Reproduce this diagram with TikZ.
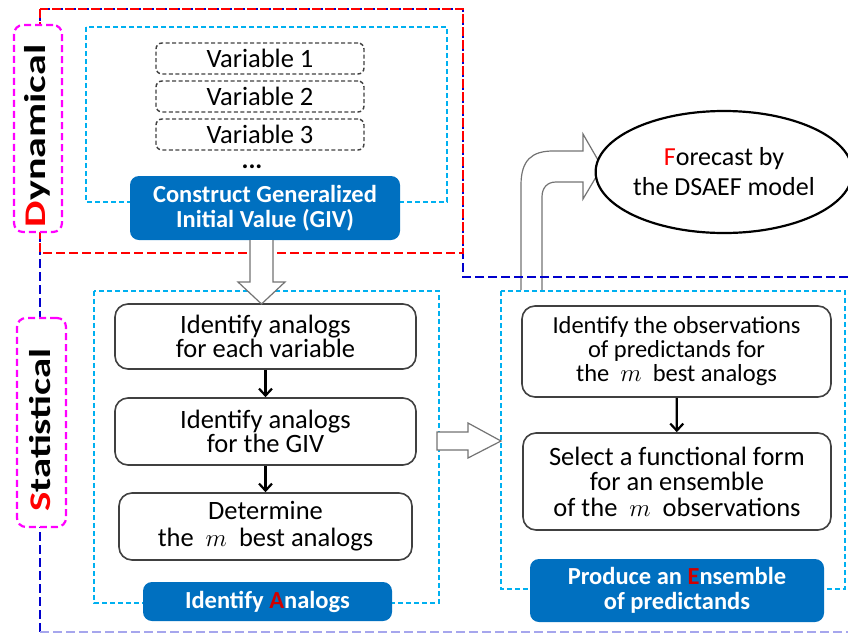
\documentclass[tikz,border=0pt]{standalone}
\usepackage{fontspec}
\usepackage{graphicx}
\setmainfont{Carlito}
\usetikzlibrary{arrows.meta,shapes.geometric}
\definecolor{cyanl}{HTML}{00B0F0}
\definecolor{boxblue}{HTML}{0070C0}
\definecolor{dblue}{HTML}{0000CC}
\definecolor{mag}{HTML}{FF00FF}
\definecolor{redd}{HTML}{FF0000}
\definecolor{darkred}{HTML}{D00000}
\begin{document}
\begin{tikzpicture}[x=1pt,y=-1pt,
  cyanbox/.style={draw=cyanl, line width=1.7pt, dash pattern=on 5pt off 3pt},
  magbox/.style={draw=mag, fill=white, line width=2.2pt, dash pattern=on 7pt off 4pt, rounded corners=9pt, inner sep=0pt},
  varbox/.style={draw=black!75, line width=1.4pt, dash pattern=on 4pt off 2.5pt, rounded corners=6pt, inner sep=0pt, minimum width=208pt, minimum height=31pt, font=\fontsize{26.5}{26}\selectfont},
  stepbox/.style={draw=black!75, fill=white, line width=1.6pt, rounded corners=13pt, inner sep=0pt, align=center, font=\fontsize{26.5}{24}\selectfont},
  bluebox/.style={fill=boxblue, rounded corners=9pt, inner sep=0pt, text=white, align=center, font=\bfseries\fontsize{24.5}{25}\selectfont},
  hollow/.style={draw=black!55, line width=1.2pt, fill=white},
  sarrow/.style={draw=black, line width=2.2pt, -{Straight Barb[length=7pt,width=13pt,line width=2.2pt]}},
  biglabel/.style={rotate=90, inner sep=0pt, font=\bfseries\fontsize{30}{30}\selectfont}
]
\useasboundingbox (0,0) rectangle (848,635);

% curved hollow arrow (drawn under the dashed lines)
\draw[hollow, fill=none] (521,290) -- (521,185) .. controls (521,160) and (532,151) .. (553,151)
  -- (583,151) -- (583,134) -- (602,167) -- (583,199) -- (583,182) -- (556,182)
  .. controls (547,182) and (542,188) .. (542,197) -- (542,290);

% cyan dashed frames
\draw[cyanbox] (86,27) rectangle (447,202);
\draw[cyanbox] (94,291) rectangle (439,603);
\draw[cyanbox] (501,291) rectangle (845,589);

% outer blue and red dashed frames
\draw[dblue, line width=2.6pt, dash pattern=on 9pt off 4pt] (848,277) -- (463,277) -- (463,9) -- (40,9) -- (40,632);
\draw[dblue!35, line width=2.4pt, dash pattern=on 9pt off 4pt] (40,632) -- (848,632);
\draw[redd, line width=2.4pt, dash pattern=on 9pt off 4pt] (40,9) rectangle (463,253);

% side labels
\node[magbox, minimum width=48pt, minimum height=207pt] (dynbox) at (38,128.5) {};
\node[biglabel] (dyn) at (37,136) {\scalebox{1.4}[1]{\textcolor{redd}{D}ynamical}};
\node[magbox, minimum width=49pt, minimum height=209pt] (statbox) at (41.5,422.5) {};
\node[biglabel] (stat) at (40,430) {\scalebox{1.36}[1]{\textcolor{redd}{S}tatistical}};

% variables
\node[varbox] (v1) at (260,58.5) {Variable 1};
\node[varbox] (v2) at (260,96.5) {Variable 2};
\node[varbox] (v3) at (260,134.5) {Variable 3};
\node[inner sep=0pt, text height=4pt, text depth=0pt, font=\bfseries\fontsize{26}{26}\selectfont] (dots) at (252,166) {...};
\node[bluebox, minimum width=270pt, minimum height=64pt] (giv) at (265,208) {Construct Generalized\\Initial Value (GIV)};

% statistical steps
\node[stepbox, minimum width=301pt, minimum height=65pt] (a1) at (265.5,336.5) {Identify analogs\\for each variable};
\node[stepbox, minimum width=301pt, minimum height=67pt] (a2) at (265.5,431.5) {Identify analogs\\for the GIV};
\node[stepbox, minimum width=293pt, minimum height=67pt, font=\fontsize{26.5}{27}\selectfont] (a3) at (265.5,526.5) {Determine\\the \ $m$ \ best analogs};
\node[bluebox, minimum width=249pt, minimum height=39pt] (ia) at (267.5,601.5) {Identify \textcolor{darkred}{A}nalogs};

\node[stepbox, minimum width=309pt, minimum height=91pt, font=\fontsize{24.5}{24}\selectfont] (o1) at (676.5,351.5) {Identify the observations\\of predictands for\\the \ $m$ \ best analogs};
\node[stepbox, minimum width=308pt, minimum height=97pt, font=\fontsize{26.5}{25.5}\selectfont] (o2) at (677,481.5) {Select a functional form\\for an ensemble\\of the \ $m$ \ observations};
\node[bluebox, minimum width=294pt, minimum height=63pt] (pe) at (677,590.5) {Produce an \textcolor{darkred}{E}nsemble\\of predictands};

% forecast ellipse
\node[ellipse, draw=black, line width=2.2pt, fill=white, minimum width=242pt, minimum height=122pt, inner sep=0pt, align=center, font=\fontsize{26}{30}\selectfont] (fc) at (724,172) {\textcolor{redd}{F}orecast by\\the DSAEF model};

% small arrows
\draw[sarrow] (a1) -- (a2);
\draw[sarrow] (a2) -- (a3);
\draw[sarrow] (o1) -- (o2);

% hollow block arrows
\draw[hollow] (250,240) -- (250,282) -- (238,282) -- (261.5,304) -- (285,282) -- (273,282) -- (273,240);
\draw[hollow] (437,432) -- (468,432) -- (468,423) -- (501,441) -- (468,458) -- (468,450) -- (437,450) -- cycle;
\end{tikzpicture}
\end{document}
